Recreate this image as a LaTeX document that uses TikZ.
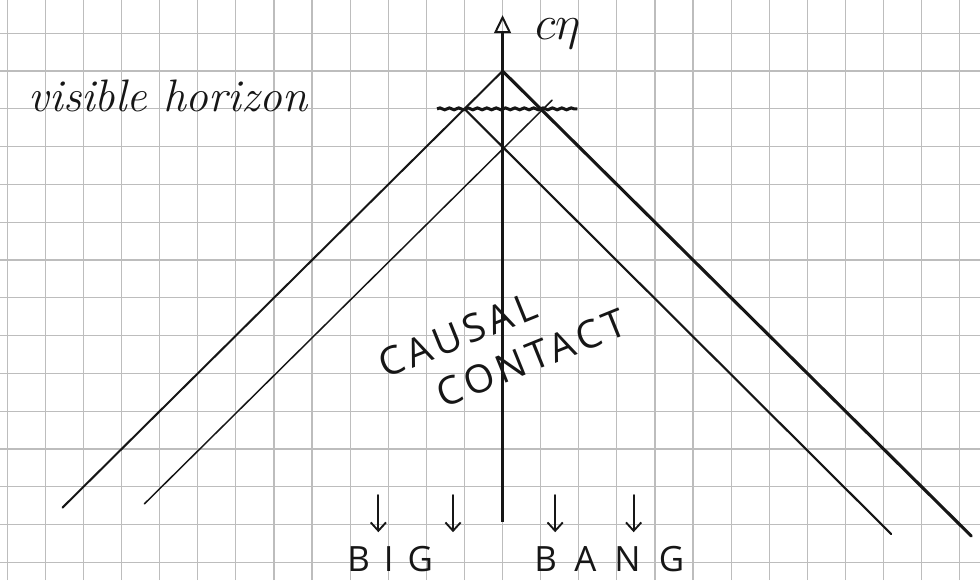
\documentclass[tikz,border=0pt]{standalone}
\usepackage{fontspec}
\usepackage{tikz}
\usetikzlibrary{arrows.meta,decorations.pathmorphing}
\newfontfamily\printcaps[LetterSpace=12]{Open Sans}
\newfontfamily\widecaps[LetterSpace=40]{Open Sans}
\newfontfamily\widercaps[LetterSpace=52]{Open Sans}
\definecolor{gridgray}{HTML}{BDBDBD}
\definecolor{pencil}{HTML}{161616}

\begin{document}
\begin{tikzpicture}[x=1cm, y=0.992cm,
    gridline/.style={gridgray, line width=0.9pt},
    ray/.style={pencil, line width=#1, line cap=round},
    ray/.default=1.3pt,
    bangarrow/.style={pencil, line width=1.4pt, line cap=round, -{Straight Barb[length=2.2mm, width=4mm]}},
    caps/.style={pencil, font=\printcaps\fontsize{29}{29}\selectfont, inner sep=0pt},
    bigcaps/.style={pencil, font=\widecaps\fontsize{26}{26}\selectfont, inner sep=0pt},
    hand/.style={pencil, font=\itshape\fontsize{34}{34}\selectfont, inner sep=0pt}
]
\fill[white] (-13.19,-13.47) rectangle (12.53,1.88);
\useasboundingbox (-13.19,-13.47) rectangle (12.53,1.88);
% squared paper
\foreach \gx in {-13,...,12} \draw[gridline] (\gx,-13.47) -- (\gx,1.88);
\foreach \gy in {-13,...,1} \draw[gridline] (-13.19,\gy) -- (12.53,\gy);

\coordinate (apex) at (0,0);
\coordinate (hl) at (-1,-1);
\coordinate (hr) at (1.3,-0.77);
\coordinate (lo) at (-11.55,-11.55);
\coordinate (ro) at (12.3,-12.3);
\coordinate (li) at (-9.4,-11.45);
\coordinate (ri) at (10.2,-12.25);
\coordinate (axbot) at (0,-11.93);
\coordinate (axtop) at (0,1.48);

% light cones
\draw[ray=1.5pt] (apex) -- (lo);
\draw[ray=2.3pt] (apex) -- (ro);
\draw[ray=1.6pt] (hl) -- (ri);
\draw[ray=1.1pt] (hr) -- (li);
\draw[pencil, line width=2.2pt, -{Triangle[open, length=4.7mm, width=4.4mm, line width=1.5pt]}] (axbot) -- (axtop);
\node[pencil, font=\fontsize{24}{24}\selectfont, scale=1.45, inner sep=0pt] (ctime) at (1.45,0.98) {$c\eta$};

% horizon
\draw[pencil, line width=2.3pt, decorate, decoration={snake, amplitude=0.7pt, segment length=7pt}] (-1.72,-1) -- (1.96,-1);
\node[hand, anchor=base] (vishor) at (-8.78,-1.08) {visible horizon};

\node[caps, rotate=22] (causal) at (-1.19,-6.98) {CAUSAL};
\node[caps, rotate=22] (contact) at (0.75,-7.59) {CONTACT};

\foreach \ax in {-3.26,-1.30,1.38,3.44} \draw[bangarrow] (\ax,-11.22) -- (\ax,-12.2);
\node[bigcaps] (big) at (-2.95,-12.92) {BIG};
\node[bigcaps, font=\widercaps\fontsize{26}{26}\selectfont] (bang) at (2.8,-12.92) {BANG};
\end{tikzpicture}
\end{document}
